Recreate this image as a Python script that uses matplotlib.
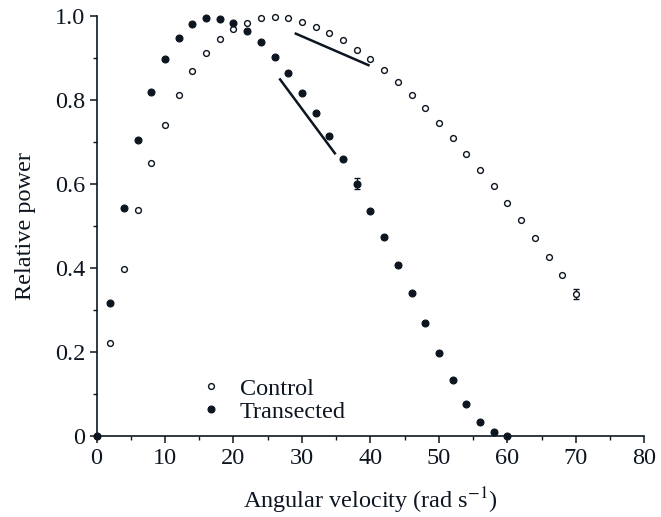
import matplotlib
matplotlib.use("Agg")
import matplotlib.pyplot as plt
from matplotlib.lines import Line2D
from matplotlib.ticker import MultipleLocator, FixedFormatter, FixedLocator

plt.rcParams['font.family'] = ['Liberation Serif', 'DejaVu Serif']
plt.rcParams['mathtext.fontset'] = 'stix'

ink = '#0d1620'
fs = 17.5

# angular velocity (rad s-1)
x_control = [0, 2, 4, 6, 8, 10, 12, 14, 16, 18, 20, 22, 24, 26, 28, 30, 32, 34, 36,
             38, 40, 42, 44, 46, 48, 50, 52, 54, 56, 58, 60, 62, 64, 66, 68, 70]
y_control = [0.0, 0.220, 0.397, 0.537, 0.649, 0.740, 0.811, 0.868, 0.911, 0.945,
             0.968, 0.983, 0.995, 0.998, 0.995, 0.986, 0.975, 0.960, 0.943, 0.920,
             0.897, 0.871, 0.843, 0.811, 0.780, 0.745, 0.709, 0.671, 0.634, 0.595,
             0.555, 0.514, 0.471, 0.425, 0.383, 0.337]
err_control = [0] * 35 + [0.012]

x_trans = [0, 2, 4, 6, 8, 10, 12, 14, 16, 18, 20, 22, 24, 26, 28, 30, 32, 34, 36,
           38, 40, 42, 44, 46, 48, 50, 52, 54, 56, 58, 60]
y_trans = [0.0, 0.317, 0.542, 0.704, 0.818, 0.897, 0.948, 0.980, 0.995, 0.994,
           0.983, 0.965, 0.937, 0.903, 0.864, 0.817, 0.768, 0.714, 0.660, 0.601,
           0.536, 0.474, 0.408, 0.340, 0.269, 0.197, 0.134, 0.077, 0.034, 0.009, 0.0]
err_trans = [0] * 19 + [0.012] + [0] * 11

# slope lines drawn on the plot
slope1_x = [29.1, 39.7]
slope1_y = [0.958, 0.883]
slope2_x = [26.8, 34.8]
slope2_y = [0.849, 0.673]

fig = plt.figure(figsize=(6.61, 5.17), dpi=100)
ax = fig.add_axes([0.146, 0.157, 0.829, 0.812])

open_style = dict(marker='o', ms=4.2, mfc='white', mec=ink, mew=1.0)
fill_style = dict(marker='o', ms=5.0, mfc=ink, mec=ink, mew=0.8)

ax.errorbar(x_control, y_control, yerr=err_control, fmt='none', ecolor=ink,
            elinewidth=1.0, capsize=2.5, clip_on=False, zorder=2)
ax.plot(x_control, y_control, ls='none', clip_on=False, zorder=3, **open_style)
ax.errorbar(x_trans, y_trans, yerr=err_trans, fmt='none', ecolor=ink,
            elinewidth=1.0, capsize=2.5, clip_on=False, zorder=2)
ax.plot(x_trans, y_trans, ls='none', clip_on=False, zorder=4, **fill_style)

ax.plot(slope1_x, slope1_y, color=ink, lw=1.8)
ax.plot(slope2_x, slope2_y, color=ink, lw=1.8)

ax.set_xlim(0, 80)
ax.set_ylim(0, 1.0)
ax.xaxis.set_major_locator(MultipleLocator(10))
ax.xaxis.set_minor_locator(MultipleLocator(5))
ax.yaxis.set_major_locator(FixedLocator([0, 0.2, 0.4, 0.6, 0.8, 1.0]))
ax.yaxis.set_major_formatter(FixedFormatter(['0', '0.2', '0.4', '0.6', '0.8', '1.0']))
ax.yaxis.set_minor_locator(MultipleLocator(0.1))

for s in ['top', 'right']:
    ax.spines[s].set_visible(False)
for s in ['left', 'bottom']:
    ax.spines[s].set_color(ink)
    ax.spines[s].set_linewidth(1.2)

ax.tick_params(which='major', direction='out', length=5, width=1.1, colors=ink,
               labelsize=fs)
ax.tick_params(axis='x', which='major', pad=4)
ax.tick_params(axis='y', which='major', pad=3)
ax.tick_params(which='minor', direction='out', length=3, width=1.0, colors=ink)

ax.set_xlabel(r'Angular velocity (rad s$^{-1}$)', fontsize=fs, color=ink, labelpad=12)
ax.set_ylabel('Relative power', fontsize=fs, color=ink, labelpad=14)

handles = [Line2D([], [], ls='none', **open_style),
           Line2D([], [], ls='none', **fill_style)]
ax.legend(handles, ['Control', 'Transected'], loc='center left',
          bbox_to_anchor=(0.186, 0.085), frameon=False, fontsize=fs,
          handletextpad=0.7, borderpad=0, borderaxespad=0,
          labelspacing=0.05, handlelength=1.0, labelcolor=ink)

fig.savefig('out.png', dpi=100)
